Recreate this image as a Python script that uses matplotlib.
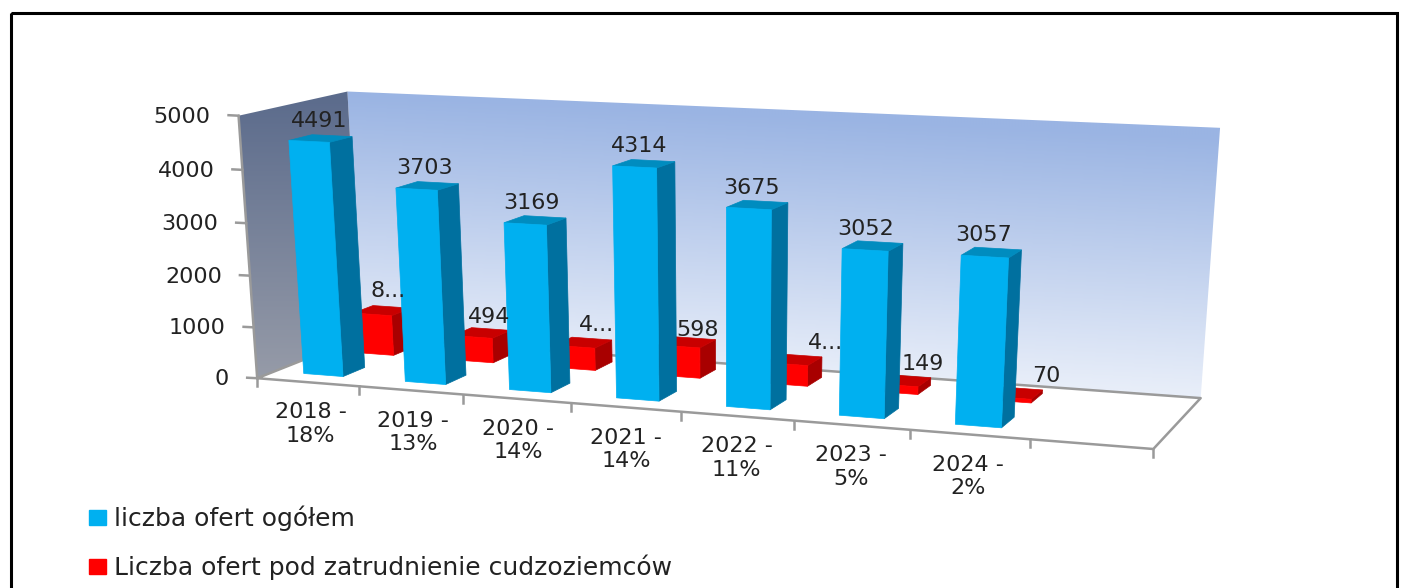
import numpy as np
import matplotlib
matplotlib.use('Agg')
import matplotlib.pyplot as plt
from matplotlib.colors import LinearSegmentedColormap
from matplotlib.patches import Patch, Polygon, Rectangle

# chart data
categories = ['2018 -\n18%', '2019 -\n13%', '2020 -\n14%', '2021 -\n14%',
              '2022 -\n11%', '2023 -\n5%', '2024 -\n2%']
total_offers = [4491, 3703, 3169, 4314, 3675, 3052, 3057]
foreign_offers = [808, 494, 444, 598, 404, 149, 70]
total_labels = ['4491', '3703', '3169', '4314', '3675', '3052', '3057']
foreign_labels = ['8...', '494', '4...', '598', '4...', '149', '70']
y_ticks = [0, 1000, 2000, 3000, 4000, 5000]
series_names = ['liczba ofert ogółem', 'Liczba ofert pod zatrudnienie cudzoziemców']

YMAX = 5000
NSLOTS = 8
FS = 16

# corners of the 3D box on the picture: (slot, depth, value) -> pixel
calib = [
    ((0, 0, 0), (258, 378)),
    ((8, 0, 0), (1153, 450)),
    ((8, 1, 0), (1201, 397)),
    ((0, 0, 5000), (238, 115)),
    ((0, 1, 5000), (348, 92)),
    ((8, 1, 5000), (1220, 128)),
]
# the back left floor corner is hidden behind the first bar, so it counts less
calib_soft = ((0, 1, 0), (352, 341))


def fit_camera(points, soft):
    rows = []
    for (x, z, v), (px, py), wt in [(a, b, 1.0) for a, b in points] + [(soft[0], soft[1], 0.3)]:
        w = [x / NSLOTS, z, v / YMAX, 1]
        rows.append([wt * c for c in w + [0, 0, 0, 0] + [-px * c for c in w]])
        rows.append([wt * c for c in [0, 0, 0, 0] + w + [-py * c for c in w]])
    _, _, vt = np.linalg.svd(np.array(rows, dtype=float))
    return vt[-1].reshape(3, 4)


P = fit_camera(calib, calib_soft)


def proj(x, z, v):
    p = P @ np.array([x / NSLOTS, z, v / YMAX, 1.0])
    return p[0] / p[2], p[1] / p[2]


fig = plt.figure(figsize=(14.07, 5.88), dpi=100)
ax = fig.add_axes([0, 0, 1, 1])
ax.set_xlim(0, 1407)
ax.set_ylim(588, 0)
ax.axis('off')


def gradient_wall(corners, top, bottom, y0, y1, slope):
    # colour bands run along the top edge of the wall
    cmap = LinearSegmentedColormap.from_list('w', [top, bottom])
    xx, yy = np.meshgrid(np.arange(0, 1407, 3), np.arange(0, 588, 2))
    g = np.clip((yy - y0 - slope * (xx - 348)) / (y1 - y0), 0, 1)
    im = ax.imshow(g, cmap=cmap, aspect='auto', extent=(0, 1407, 588, 0), zorder=1)
    im.set_clip_path(Polygon(corners, transform=ax.transData))


gradient_wall([proj(0, 1, 0), proj(8, 1, 0), proj(8, 1, YMAX), proj(0, 1, YMAX)],
              '#9AB4E3', '#E8EEF9', 92, 350, 0.05)
gradient_wall([proj(0, 0, 0), proj(0, 1, 0), proj(0, 1, YMAX), proj(0, 0, YMAX)],
              '#5B6B8C', '#969BA8', 92, 378, 0)
ax.set_xlim(0, 1407)
ax.set_ylim(588, 0)

# box edges and ticks
axis_col = '#9A9A9A'
edges = [
    [proj(0, 0, 0), proj(NSLOTS, 0, 0), proj(NSLOTS, 1, 0), proj(0, 1, 0), proj(0, 0, 0)],
    [proj(0, 0, YMAX), proj(0, 0, 0)],
]
for e in edges:
    ax.plot(*zip(*e), color=axis_col, lw=1.8, zorder=2, solid_capstyle='round')

for t in y_ticks:
    px, py = proj(0, 0, t)
    ax.plot([px - 10, px], [py - 0.5, py], color=axis_col, lw=1.8, zorder=2)
    ax.text(px - 28, py + 1, str(t), ha='right', va='center', fontsize=FS, color='#222222', zorder=6)

for i in range(NSLOTS + 1):
    px, py = proj(i, 0, 0)
    ax.plot([px, px], [py, py + 8], color=axis_col, lw=1.8, zorder=2)

for i, cat in enumerate(categories):
    px, py = proj(i + 0.5, 0, 0)
    ax.text(px + 3 - i * 0.85, py + 42, cat, ha='center', va='center', fontsize=FS, color='#222222',
            linespacing=1.22, zorder=6)


def draw_bar(i, z0, z1, value, front, side, top, order):
    x0, x1 = i + 0.29, i + 0.68
    ax.add_patch(Polygon([proj(x1, z0, 0), proj(x1, z1, 0), proj(x1, z1, value), proj(x1, z0, value)],
                         fc=side, ec=side, lw=0.5, zorder=order))
    ax.add_patch(Polygon([proj(x0, z0, value), proj(x1, z0, value), proj(x1, z1, value), proj(x0, z1, value)],
                         fc=top, ec=top, lw=0.5, zorder=order))
    ax.add_patch(Polygon([proj(x0, z0, 0), proj(x1, z0, 0), proj(x1, z0, value), proj(x0, z0, value)],
                         fc=front, ec=front, lw=0.5, zorder=order))


BLUE = ('#00B0F0', '#00709F', '#008CBF')
RED = ('#FF0000', '#A80000', '#C80000')

for i, v in enumerate(foreign_offers):
    draw_bar(i, 0.66, 0.86, v, *RED, order=3)
for i, v in enumerate(total_offers):
    draw_bar(i, 0.16, 0.37, v, *BLUE, order=4)

# nudges of the value labels, the original chart places them unevenly
foreign_nudge_x = [8, 9, 15, 12, 33, 21, 32]
foreign_nudge_y = [-21, -18, -19, -14, -19, -19, -19]
for i, (v, lab) in enumerate(zip(total_offers, total_labels)):
    px, py = proj(i + 0.5, 0.28, v)
    ax.text(px - 5 - i * 1.0, py - 17, lab, ha='center', va='center', fontsize=FS, color='#222222', zorder=6)
for i, (v, lab) in enumerate(zip(foreign_offers, foreign_labels)):
    px, py = proj(i + 0.5, 0.72, v)
    ax.text(px + foreign_nudge_x[i], py + foreign_nudge_y[i], lab, ha='center', va='center',
            fontsize=FS, color='#222222', zorder=6)

# outer frame runs past the bottom of the picture
ax.add_patch(Rectangle((11, 13), 1386, 620, fc='none', ec='black', lw=2.2, zorder=7))

handles = [Patch(fc=BLUE[0], ec=BLUE[0]), Patch(fc=RED[0], ec=RED[0])]
ax.legend(handles, series_names, loc='lower left', bbox_to_anchor=(89 / 1407, 8 / 588), borderaxespad=0,
          borderpad=0, frameon=False, fontsize=18, handlelength=0.67, handleheight=0.55,
          handletextpad=0.35, labelspacing=0.94, labelcolor='#222222')

fig.savefig('out.png', dpi=100)
